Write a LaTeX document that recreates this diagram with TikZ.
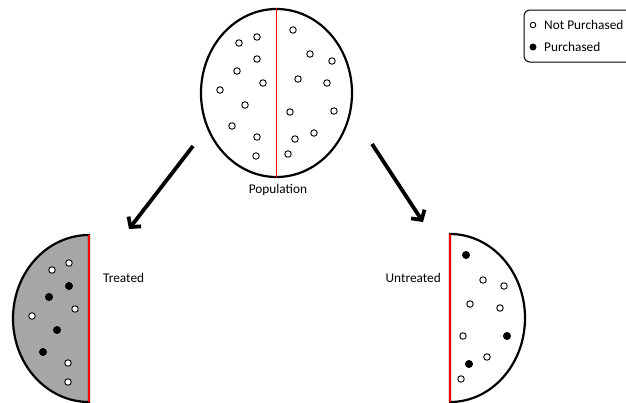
\documentclass[tikz,border=0pt]{standalone}
\usepackage{fontspec}
\setmainfont{Carlito}
\usetikzlibrary{arrows.meta,shapes.geometric}
\tikzset{wdot/.style={circle,draw=black,fill=white,line width=0.9pt,inner sep=0pt,minimum size=6.5pt}}
\tikzset{bdot/.style={circle,draw=black,fill=black,line width=0.9pt,inner sep=0pt,minimum size=7pt}}
\tikzset{lbl/.style={font=\fontsize{13.3}{15}\selectfont,inner sep=0pt}}
\definecolor{treatgray}{RGB}{168,166,164}

\begin{document}
\begin{tikzpicture}[x=1pt,y=-1pt]
\useasboundingbox (0,0) rectangle (626,402);

%population
\node[ellipse,draw=black,line width=2.2pt,minimum width=151pt,minimum height=168pt,inner sep=0pt] (pop) at (276.5,93) {};
\draw[red,line width=1.8pt] (pop.north)--(pop.south);
\node[lbl] (poplbl) at (278,189.5) {Population};

%treated half
\draw[black,line width=2.2pt,fill=treatgray] (89,235) arc (-90:-270:76 and 83.5) -- cycle;
\draw[red,line width=1.8pt] (89,235)--(89,402);
\node[lbl,anchor=west] (trt) at (103,277.5) {Treated};

%untreated half
\draw[black,line width=2.2pt,fill=white] (450,234) arc (-90:90:75 and 84) -- cycle;
\draw[red,line width=1.2pt] (450,234)--(450,402);
\node[lbl,anchor=east] (untrt) at (441,277.5) {Untreated};

%dots
\foreach \x/\y [count=\i] in {239/43,257/37,257/59,237/71,263/83,220/90,245/105,232/126,257/137,256/156,
  293/30,310/54,332/61,298/79,327/83,290/112,334/111,314/133,295/139,288/154}
  \node[wdot] (p\i) at (\x,\y) {};
\foreach \x/\y [count=\i] in {69/263,52/270,75/309,32/316,68/363,68/382}
  \node[wdot] (t\i) at (\x,\y) {};
\foreach \x/\y [count=\i] in {69/286,49/297,57/330,43/352}
  \node[bdot] (tb\i) at (\x,\y) {};
\foreach \x/\y [count=\i] in {483/280,504/286,470/304,500/308,463/336,487/357,461/379}
  \node[wdot] (u\i) at (\x,\y) {};
\foreach \x/\y [count=\i] in {466/255,507/336,469/364}
  \node[bdot] (ub\i) at (\x,\y) {};

%arrows
\coordinate (la) at (193,146); \coordinate (lb) at (129,229);
\coordinate (ra) at (372,144); \coordinate (rb) at (423,222);
\draw[line width=3.8pt,-{Straight Barb[length=7pt,width=16pt]}] (la)--(lb);
\draw[line width=3.8pt,-{Straight Barb[length=7pt,width=16pt]}] (ra)--(rb);

%legend
\draw[black,line width=1pt,rounded corners=6pt] (524,10) rectangle (650,62);
\node[wdot,minimum size=5.5pt] (lw) at (533,25) {};
\node[bdot,minimum size=6pt] (lk) at (533,47) {};
\node[lbl,anchor=west] (lwt) at (544,25) {Not Purchased};
\node[lbl,anchor=west] (lkt) at (544,47) {Purchased};
\end{tikzpicture}
\end{document}
